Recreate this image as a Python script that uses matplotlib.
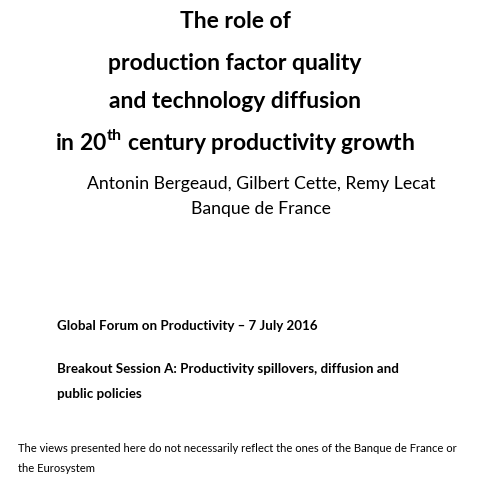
import matplotlib
matplotlib.use("Agg")
import matplotlib.pyplot as plt

title_lines = ["The role of", "production factor quality", "and technology diffusion",
               r"in 20$^{\mathregular{th}}$ century productivity growth"]
title_y = [22, 63, 102, 141]
author_lines = ["Antonin Bergeaud, Gilbert Cette, Remy Lecat", "Banque de France"]
author_y = [184, 209]
body_lines = ["Global Forum on Productivity \u2013 7 July 2016", "",
              "Breakout Session A: Productivity spillovers, diffusion and", "public policies"]
body_y = [326, 0, 369, 394]
foot_lines = ["The views presented here do not necessarily reflect the ones of the Banque de France or",
              "the Eurosystem"]
foot_y = [448, 468]

plt.rcParams['font.family'] = ['Lato', 'DejaVu Sans']
fig = plt.figure(figsize=(4.8, 4.8), dpi=100)
ax = fig.add_axes([0, 0, 1, 1])
ax.set_xlim(0, 480); ax.set_ylim(480, 0); ax.axis('off')

for t, y in zip(title_lines, title_y):
    ax.text(235, y, t, ha='center', va='center', fontsize=16.5, fontweight='bold', color='black')
for t, y in zip(author_lines, author_y):
    ax.text(261, y, t, ha='center', va='center', fontsize=12.7, color='black')
for t, y in zip(body_lines, body_y):
    if t:
        ax.text(57, y, t, ha='left', va='center', fontsize=9.6, fontweight='bold', color='black')
for t, y in zip(foot_lines, foot_y):
    ax.text(18, y, t, ha='left', va='center', fontsize=8.1, color='black')

fig.savefig("out.png", dpi=100)
